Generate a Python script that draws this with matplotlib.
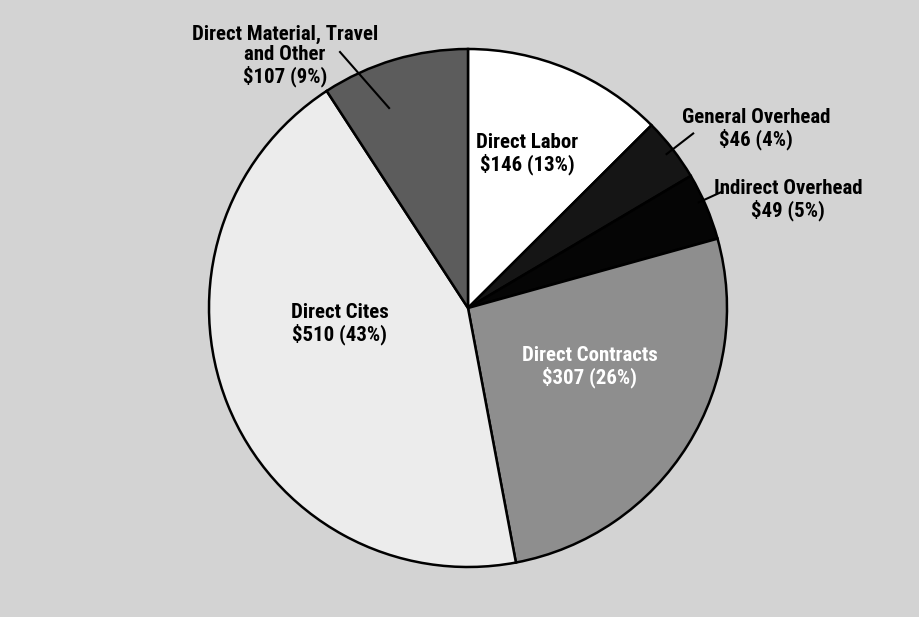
import matplotlib
matplotlib.use("Agg")
import matplotlib.pyplot as plt
import numpy as np

categories = ["Direct Labor", "General Overhead", "Indirect Overhead",
              "Direct Contracts", "Direct Cites", "Direct Material, Travel\nand Other"]
values = [146, 46, 49, 307, 510, 107]
percents = [13, 4, 5, 26, 43, 9]

colors = ["#ffffff", "#151515", "#050505", "#8e8e8e", "#ececec", "#5c5c5c"]

W, H = 919, 617
fig = plt.figure(figsize=(W / 100, H / 100), dpi=100)
fig.patch.set_facecolor("#d3d3d3")
ax = fig.add_axes([0, 0, 1, 1])

cx, cy, R = 468, H - 308, 259
wedges, _ = ax.pie(values, colors=colors, startangle=90, counterclock=False,
                   center=(cx, cy), radius=R, frame=True,
                   wedgeprops=dict(edgecolor="black", linewidth=1.8))
ax.set_xlim(0, W)
ax.set_ylim(0, H)
ax.set_aspect("equal")
ax.axis("off")

font = dict(family=["Roboto Condensed", "DejaVu Sans"], fontweight="bold",
            fontsize=15, ha="center", va="center", linespacing=1.1)

def lab(i):
    return f"{categories[i]}\n${values[i]} ({percents[i]}%)"

def pt(i, frac, dang=0.0):
    w = wedges[i]
    a = np.deg2rad((w.theta1 + w.theta2) / 2 + dang)
    return cx + R * frac * np.cos(a), cy + R * frac * np.sin(a)

# inside labels
ax.text(527, H - 154, lab(0), color="black", **font)
ax.text(590, H - 367, lab(3), color="white", **font)
ax.text(340, H - 324, lab(4), color="black", **font)

# outside labels with leader lines
ax.text(756, H - 129, lab(1), color="black", **font)
p1, p2 = pt(1, 0.97), pt(1, 1.10)
ax.plot([p1[0], p2[0]], [p1[1], p2[1]], color="black", lw=1.5)

ax.text(788, H - 200, lab(2), color="black", **font)
p1, p2 = pt(2, 0.98, 1.5), pt(2, 1.08, 1.5)
ax.plot([p1[0], p2[0]], [p1[1], p2[1]], color="black", lw=1.5)

ax.text(285, H - 56, lab(5), color="black", **font)
p1 = pt(5, 0.83, 5)
ax.plot([340, p1[0]], [H - 52, p1[1]], color="black", lw=1.5)

fig.savefig("out.png", dpi=100, facecolor=fig.get_facecolor())
